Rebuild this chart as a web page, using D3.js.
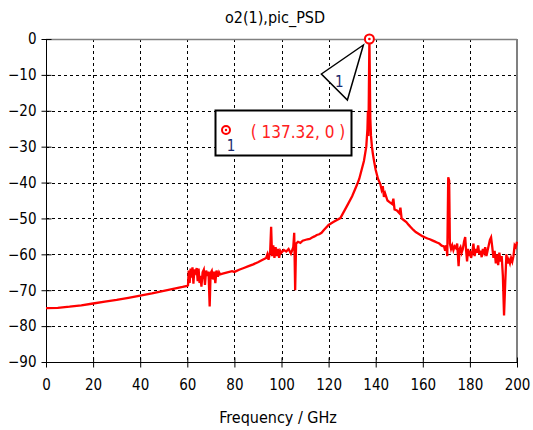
<!DOCTYPE html>
<html>
<head>
<meta charset="utf-8">
<script src="https://cdn.jsdelivr.net/npm/d3@7"></script>
<style>
  body { margin: 0; background: #fff; }
  svg text { font-family: Tahoma, "DejaVu Sans Condensed", "DejaVu Sans", sans-serif; }
</style>
</head>
<body>
<svg id="chart" width="533" height="430"></svg>
<script>
// PSD trace: [frequency GHz, level dB]
const psdData = [
  [0, -75.0], [5, -74.9], [10, -74.6], [15, -74.2], [20, -73.7], [25, -73.2],
  [30, -72.7], [35, -72.1], [40, -71.5], [45, -70.9], [50, -70.2], [55, -69.5],
  [58, -69.1], [60, -68.8],
  [60.3, -68.6], [60.6, -64.5], [61.0, -68.0], [61.4, -64.0], [61.8, -66.5], [62.2, -63.6],
  [62.6, -68.2], [63.0, -64.2], [63.5, -65.0], [64.0, -63.8], [64.4, -67.5], [64.8, -64.0],
  [65.2, -68.0], [65.6, -66.0], [66.0, -69.0], [66.5, -65.0], [67.0, -64.3], [67.5, -68.5],
  [68.0, -64.5], [68.5, -66.0], [69.0, -64.8], [69.5, -74.5], [69.9, -65.2], [70.4, -64.6],
  [70.9, -67.0], [71.4, -64.8], [71.9, -68.0], [72.4, -64.5], [73.0, -66.2], [73.5, -65.0],
  [74.0, -65.6], [75, -65.4], [77, -65.0], [79, -64.7], [80, -64.9], [82, -64.3],
  [84, -63.8], [86, -63.3], [88, -62.8], [90, -62.2], [92, -61.5], [93.5, -61.0],
  [94, -60.0], [94.5, -61.5], [95.2, -59.0], [95.6, -52.3], [96.0, -60.5], [96.5, -57.5],
  [97.0, -61.0], [97.5, -58.0], [98, -60.5], [98.5, -58.5], [99, -61.0], [99.5, -59.0],
  [100, -59.5], [101, -58.8], [102, -59.2], [103, -58.5], [104, -59.8], [105.0, -58.0],
  [105.4, -54.0], [105.8, -70.0], [106.2, -57.0], [107, -56.5], [108, -56.8], [109, -56.2],
  [110, -56.0], [111, -55.8], [112, -55.7], [113, -55.3], [114, -55.0], [115, -54.6],
  [116, -54.4], [117, -54.0], [118, -53.2], [120, -51.8], [122, -51.0], [125, -49.9],
  [128, -46.3], [130, -43.8], [132, -40.7], [133, -39.0], [134, -36.5], [135, -34.0],
  [136, -30.0], [136.5, -25.0], [136.7, -20.0], [136.9, -27.0], [137.1, -15.0], [137.32, 0],
  [137.5, -10.0], [137.7, -22.0], [138, -27.0], [138.4, -30.0], [138.8, -32.0], [139.3, -34.0],
  [140, -36.5], [141, -39.0], [142, -40.5], [142.5, -42.0], [143, -41.0], [143.5, -44.0],
  [144, -43.0], [145, -45.0], [146, -45.5], [147, -46.0], [147.5, -44.5], [148, -47.5],
  [149, -47.8], [150, -48.5], [150.5, -47.0], [151, -50.0], [152, -50.5], [153, -51.0],
  [154, -51.8], [155, -52.5], [156, -53.2], [157, -53.8], [158, -54.2], [159, -54.6],
  [160, -55.0], [161, -55.3], [162, -55.6], [163, -55.8], [164, -56.1], [165, -56.4],
  [166, -56.7], [167, -57.0], [168, -57.6], [169, -57.8], [169.5, -59.0], [170.0, -57.5],
  [170.4, -60.5], [170.8, -38.5], [171.2, -39.5], [171.5, -57.0], [172, -58.5], [172.5, -57.5],
  [173, -58.8], [173.5, -57.8], [174, -58.2], [174.6, -57.0], [175.2, -63.3], [175.6, -58.5],
  [176, -58.0], [176.5, -59.5], [177, -58.5], [177.5, -56.5], [178, -55.2], [178.4, -59.0],
  [178.8, -62.0], [179.2, -58.5], [179.6, -60.5], [180, -59.0], [180.5, -61.0], [181, -59.5],
  [181.5, -57.0], [182, -60.5], [182.5, -58.5], [183, -59.5], [183.5, -57.5], [184, -60.0],
  [184.5, -59.0], [185, -60.8], [185.5, -58.5], [186, -59.5], [186.5, -58.0], [187, -60.5],
  [187.5, -59.0], [188, -57.5], [188.5, -56.0], [189, -55.3], [189.5, -58.0], [190, -61.0],
  [190.5, -59.0], [191, -62.5], [191.5, -60.0], [192, -63.0], [192.5, -59.5], [193, -62.0],
  [193.5, -60.5], [194, -66.0], [194.5, -77.0], [195, -68.0], [195.5, -60.0], [196, -62.5],
  [196.5, -61.5], [197, -62.5], [197.5, -61.0], [198, -62.0], [198.5, -60.5], [199, -57.5],
  [199.5, -58.0], [200, -56.5]
];

const xTicks = [0, 20, 40, 60, 80, 100, 120, 140, 160, 180, 200];
const yTicks = [0, -10, -20, -30, -40, -50, -60, -70, -80, -90];
const markerPoint = [137.32, 0];
const markerLabel = "( 137.32, 0 )";
const titleText = "o2(1),pic_PSD";
const xLabelText = "Frequency / GHz";

const svg = d3.select("#chart");
const margin = { left: 46, right: 16, top: 39, bottom: 68 };
const W = 533, H = 430;
const x = d3.scaleLinear().domain([0, 200]).range([margin.left, W - margin.right]);
const y = d3.scaleLinear().domain([-90, 0]).range([H - margin.bottom, margin.top]);

// grid
const grid = svg.append("g").attr("stroke", "#000").attr("stroke-dasharray", "3,3").attr("stroke-width", 1);
grid.selectAll("line.v").data(xTicks.slice(1, -1)).join("line")
  .attr("x1", d => Math.round(x(d)) + 0.5).attr("x2", d => Math.round(x(d)) + 0.5)
  .attr("y1", y(0)).attr("y2", y(-90));
grid.selectAll("line.h").data(yTicks.slice(1, -1)).join("line")
  .attr("y1", d => Math.round(y(d)) + 0.5).attr("y2", d => Math.round(y(d)) + 0.5)
  .attr("x1", x(0)).attr("x2", x(200));

// top / right frame (grey)
svg.append("line").attr("x1", x(0)).attr("x2", x(200)).attr("y1", y(0) + 0.5).attr("y2", y(0) + 0.5)
  .attr("stroke", "#808080").attr("stroke-width", 1.5);
svg.append("line").attr("x1", x(200)).attr("x2", x(200)).attr("y1", y(0)).attr("y2", y(-90) + 1)
  .attr("stroke", "#808080").attr("stroke-width", 2);

// axes
const xAxis = d3.axisBottom(x).tickValues(xTicks).tickSize(5).tickSizeOuter(0).tickPadding(12);
const yAxis = d3.axisLeft(y).tickValues(yTicks).tickSize(5).tickSizeOuter(0).tickPadding(5);

const gx = svg.append("g").attr("transform", `translate(0,${Math.round(y(-90)) + 0.5})`).call(xAxis);
const gy = svg.append("g").attr("transform", `translate(${Math.round(x(0)) + 0.5},0)`).call(yAxis);
[gx, gy].forEach(g => {
  g.select(".domain").attr("stroke", "#000");
  g.selectAll(".tick line").attr("stroke", "#000");
  g.selectAll(".tick text").attr("fill", "#000").attr("font-size", 15);
});
// ticks cross the axis lines
gx.selectAll(".tick line").attr("y1", -5).attr("y2", 5);
gy.selectAll(".tick line").attr("x1", -5).attr("x2", 5);
gx.select(".domain").attr("d", `M${x(0)},0H${x(200)}`);
gy.select(".domain").attr("d", `M0,${y(0)}V${y(-90)}`);

// trace
const line = d3.line().x(d => x(d[0])).y(d => y(d[1]));
svg.append("path").datum(psdData)
  .attr("fill", "none").attr("stroke", "#ff0000").attr("stroke-width", 2.3)
  .attr("stroke-linejoin", "miter").attr("d", line);

// peak marker
const mx = x(markerPoint[0]), my = y(markerPoint[1]);
svg.append("circle").attr("cx", mx).attr("cy", my).attr("r", 4.5)
  .attr("fill", "#fff").attr("stroke", "#ff0000").attr("stroke-width", 2);
svg.append("circle").attr("cx", mx).attr("cy", my).attr("r", 1.3).attr("fill", "#ff0000");

// triangle callout
svg.append("path")
  .attr("d", `M${mx - 6},${my + 6}L${mx - 48},${my + 35}L${mx - 22},${my + 61}Z`)
  .attr("fill", "#fff").attr("stroke", "#000").attr("stroke-width", 1.5);
svg.append("text").attr("x", mx - 30).attr("y", my + 48).attr("fill", "#1a2a6c")
  .attr("font-size", 15).attr("text-anchor", "middle").text("1");

// marker readout box
svg.append("rect").attr("x", 215.5).attr("y", 110.5).attr("width", 136).attr("height", 45)
  .attr("fill", "#fff").attr("stroke", "#000").attr("stroke-width", 2);
svg.append("circle").attr("cx", 226).attr("cy", 130).attr("r", 4)
  .attr("fill", "#fff").attr("stroke", "#ff0000").attr("stroke-width", 2);
svg.append("circle").attr("cx", 226).attr("cy", 130).attr("r", 1.2).attr("fill", "#ff0000");
svg.append("text").attr("x", 231).attr("y", 151).attr("fill", "#1a2a6c")
  .attr("font-size", 15).attr("text-anchor", "middle").text("1");
svg.append("text").attr("x", 298).attr("y", 138).attr("fill", "#ff2020")
  .attr("font-size", 17).attr("text-anchor", "middle").text(markerLabel);

// title and axis label
svg.append("text").attr("x", 275).attr("y", 23).attr("text-anchor", "middle")
  .attr("font-size", 16).attr("fill", "#000").text(titleText);
svg.append("text").attr("x", 278).attr("y", 423).attr("text-anchor", "middle")
  .attr("font-size", 16).attr("fill", "#000").text(xLabelText);
</script>
</body>
</html>
